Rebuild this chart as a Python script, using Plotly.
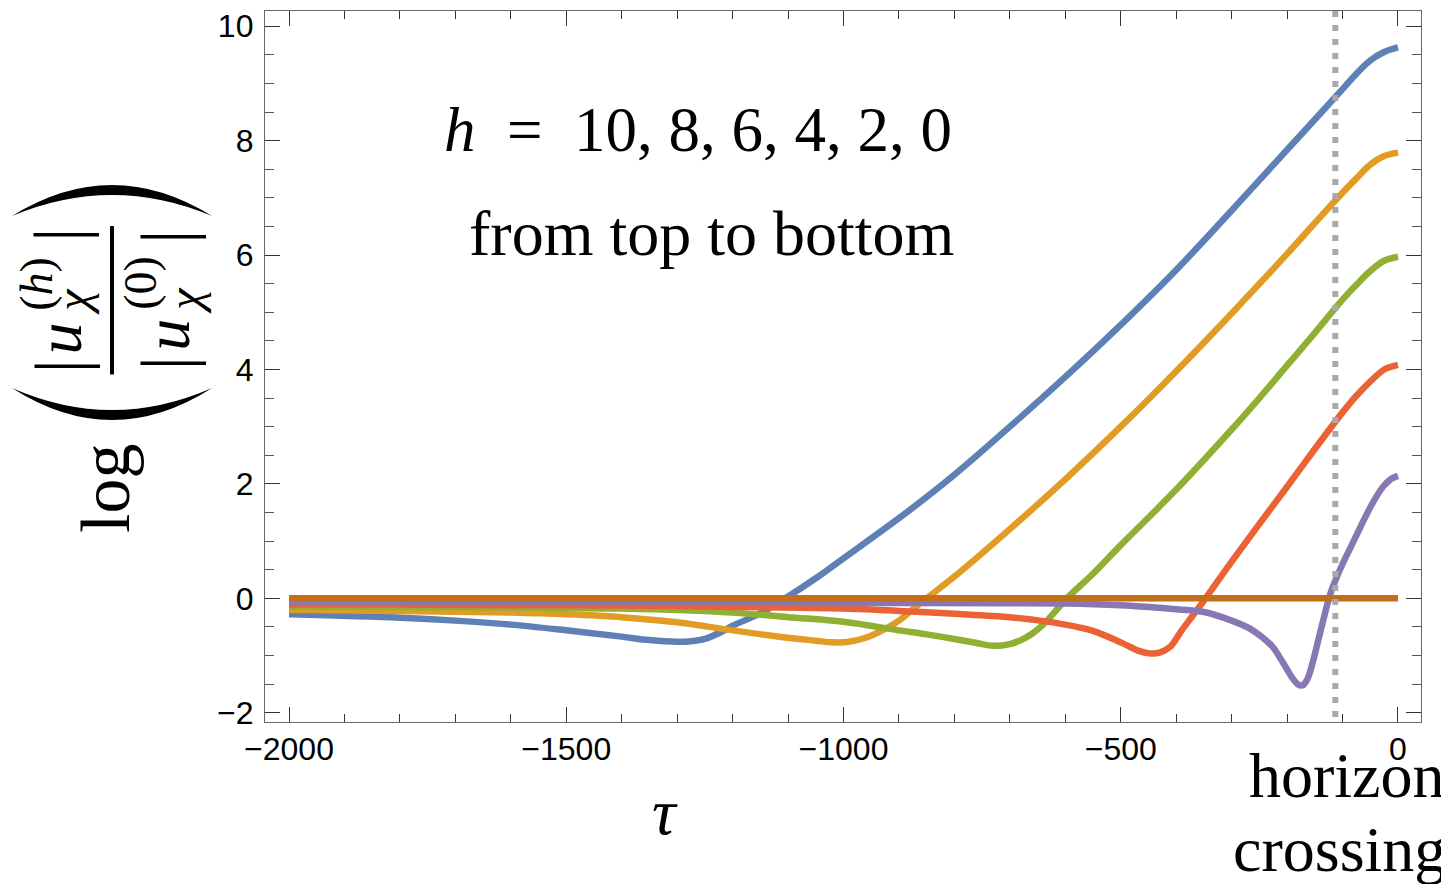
import plotly.graph_objects as go

# ---------------- data ----------------
tau_h10 = [-2000, -1800, -1700, -1600, -1500, -1400, -1350, -1300, -1275, -1250, -1225, -1200, -1150, -1105,
           -1050, -1000, -900, -800, -700, -600, -500, -400, -300, -200, -150, -100, -75, -50, -25, 0]
log_h10 = [-0.28, -0.34, -0.39, -0.46, -0.56, -0.67, -0.73, -0.76, -0.75, -0.71, -0.61, -0.48, -0.26, 0.0,
           0.35, 0.70, 1.40, 2.16, 3.0, 3.87, 4.78, 5.74, 6.78, 7.84, 8.37, 8.90, 9.17, 9.40, 9.55, 9.63]

tau_h8 = [-2000, -1800, -1600, -1500, -1400, -1300, -1200, -1100, -1050, -1020, -990, -960, -930,
          -900, -875, -850, -800, -700, -600, -500, -400, -300, -200, -150, -100, -75, -50, -25, 0]
log_h8 = [-0.20, -0.22, -0.25, -0.28, -0.33, -0.42, -0.56, -0.69, -0.74, -0.77, -0.76, -0.69, -0.56,
          -0.39, -0.19, 0.0, 0.38, 1.21, 2.08, 3.0, 3.97, 4.98, 6.02, 6.56, 7.09, 7.34, 7.58, 7.73, 7.79]

tau_h6 = [-2000, -1800, -1600, -1400, -1200, -1100, -1000, -900, -850, -800, -760, -730, -700, -680,
          -660, -640, -620, -597, -550, -500, -400, -300, -250, -200, -150, -100, -75, -50, -25, 0]
log_h6 = [-0.14, -0.15, -0.16, -0.18, -0.25, -0.33, -0.41, -0.56, -0.63, -0.71, -0.78, -0.83, -0.80, -0.73,
          -0.62, -0.46, -0.25, 0.0, 0.43, 0.93, 1.90, 2.95, 3.50, 4.07, 4.64, 5.22, 5.48, 5.72, 5.90, 5.97]

tau_h4 = [-2000, -1800, -1600, -1400, -1200, -1000, -900, -800, -700, -600, -550, -500, -470, -450,
          -430, -410, -390, -370, -350, -300, -250, -200, -150, -100, -75, -50, -25, 0]
log_h4 = [-0.11, -0.11, -0.12, -0.125, -0.15, -0.18, -0.22, -0.27, -0.33, -0.46, -0.57, -0.77, -0.91, -0.96,
          -0.95, -0.84, -0.56, -0.30, -0.04, 0.64, 1.30, 1.95, 2.61, 3.25, 3.54, 3.79, 4.0, 4.08]

tau_h2 = [-2000, -1500, -1000, -700, -600, -500, -450, -400, -350, -300, -267, -240, -225, -207,
          -190, -180, -172, -165, -159, -150, -144, -135, -123, -110, -100, -87, -70, -56, -40, -27, -12, 0]
log_h2 = [-0.07, -0.07, -0.08, -0.085, -0.09, -0.12, -0.15, -0.19, -0.24, -0.39, -0.53, -0.72, -0.86, -1.13,
          -1.40, -1.51, -1.52, -1.44, -1.30, -0.98, -0.74, -0.39, 0.05, 0.38, 0.60, 0.86, 1.20, 1.48, 1.76, 1.95, 2.09, 2.14]

tau_h0 = [-2000, 0]
log_h0 = [0.0, 0.0]

series_names = ["h=10", "h=8", "h=6", "h=4", "h=2", "h=0"]
series_tau = [tau_h10, tau_h8, tau_h6, tau_h4, tau_h2, tau_h0]
series_val = [log_h10, log_h8, log_h6, log_h4, log_h2, log_h0]
colors = ["#5E81B5", "#E19C24", "#8FB032", "#EB6235", "#8778B3", "#C56E1A"]
smooth = [1.0, 1.0, 1.0, 0.8, 0.8, 0.0]

horizon_tau = -113

x_ticks = [-2000, -1500, -1000, -500, 0]
y_ticks = [-2, 0, 2, 4, 6, 8, 10]

# ---------------- layout geometry ----------------
# the page body adds an 8px margin, so the figure is 8px smaller than the window
BODY = 8
FIG_W, FIG_H = 1449 - BODY, 884 - BODY
PL, PT = 265, 8            # plot-area top-left corner, in window pixels
W, H = 1156, 714           # plot-area size
ML, MT = PL - BODY, PT - BODY
MR = FIG_W - ML - W
MB = FIG_H - MT - H


def px(X):
    return (X - PL) / W


def py(Y):
    return 1 - (Y - PT) / H


def P(X, Y):
    return f"{X - PL:.1f},{PT - Y:.1f}"


fig = go.Figure()
for name, tx, vy, c, s in zip(series_names, series_tau, series_val, colors, smooth):
    fig.add_trace(go.Scatter(
        x=tx, y=vy, mode="lines", name=name,
        line=dict(color=c, width=6.5, shape="spline" if s > 0 else "linear",
                  smoothing=s if s > 0 else None),
        showlegend=False, hoverinfo="skip"))

axis_common = dict(
    showline=True, linecolor="#666666", linewidth=1.3, mirror="ticks",
    ticks="inside", ticklen=15, tickwidth=1.3, tickcolor="#333333",
    showgrid=False, zeroline=False, ticklabeloverflow="allow",
    tickfont=dict(family="Liberation Sans, Arial, sans-serif", size=32, color="black"),
)

fig.update_xaxes(range=[-2043.3, 41.5], tickvals=x_ticks, ticklabelstandoff=-2,
                 minor=dict(dtick=100, tick0=0, ticklen=8, tickwidth=1.3, tickcolor="#333333", ticks="inside"),
                 **axis_common)
fig.update_yaxes(range=[-2.162, 10.266], tickvals=y_ticks, ticklabelstandoff=4,
                 minor=dict(dtick=0.5, tick0=0, ticklen=9, tickwidth=1.3, tickcolor="#555555", ticks="inside"),
                 **axis_common)

serif = "Liberation Serif, Times New Roman, serif"
ann = []


def add_text(text, X, Y, size, angle=0, xanchor="center"):
    ann.append(dict(text=text, x=px(X), y=py(Y), xref="paper", yref="paper",
                    showarrow=False, xanchor=xanchor, yanchor="middle", textangle=angle,
                    font=dict(family=serif, size=size, color="black")))


add_text("<i>h</i>\u2002=\u200210, 8, 6, 4, 2, 0", 698, 128, 63)
add_text("from top to bottom", 711, 231, 64)
add_text("<i>τ</i>", 665, 812, 66)
add_text("horizon", 1447, 776, 64, xanchor="right")
add_text("crossing", 1448, 850, 64, xanchor="right")

# rotated y-axis label: log( |u_χ^(h)| / |u_χ^(0)| )
add_text("log", 106, 488, 70, angle=-90)
# numerator
add_text("<i>u</i>", 60, 337, 64, angle=-90)
add_text("<i>χ</i>", 73, 300, 48, angle=-90)
add_text("(<i>h</i>)", 37, 282, 46, angle=-90)
add_text("|", 60, 365, 72, angle=-90)
add_text("|", 60, 233, 72, angle=-90)
# denominator
add_text("<i>u</i>", 168, 333, 64, angle=-90)
add_text("<i>χ</i>", 185, 299, 48, angle=-90)
add_text("(0)", 141, 281, 46, angle=-90)
add_text("|", 167, 362, 72, angle=-90)
add_text("|", 167, 235, 72, angle=-90)

shapes = [
    dict(type="line", xref="x", yref="paper", x0=horizon_tau, x1=horizon_tau, y0=1, y1=0,
         line=dict(color="#A9A9A9", width=6, dash="6px,8px"), layer="above"),
    dict(type="line", xref="paper", yref="paper", x0=px(112), x1=px(112), y0=py(224), y1=py(373),
         line=dict(color="black", width=4)),
    dict(type="path", xref="paper", yref="paper", xsizemode="pixel", ysizemode="pixel",
         xanchor=0, yanchor=1,
         path=f"M{P(12,385)} Q{P(112,449)} {P(212,385)} Q{P(112,429)} {P(12,385)} Z",
         fillcolor="black", line=dict(width=0)),
    dict(type="path", xref="paper", yref="paper", xsizemode="pixel", ysizemode="pixel",
         xanchor=0, yanchor=1,
         path=f"M{P(12,213)} Q{P(112,151)} {P(212,213)} Q{P(112,171)} {P(12,213)} Z",
         fillcolor="black", line=dict(width=0)),
]

fig.update_layout(
    width=FIG_W, height=FIG_H,
    margin=dict(l=ML, r=MR, t=MT, b=MB, pad=0),
    paper_bgcolor="white", plot_bgcolor="white",
    annotations=ann, shapes=shapes, showlegend=False,
)

fig.write_html("out.html")
